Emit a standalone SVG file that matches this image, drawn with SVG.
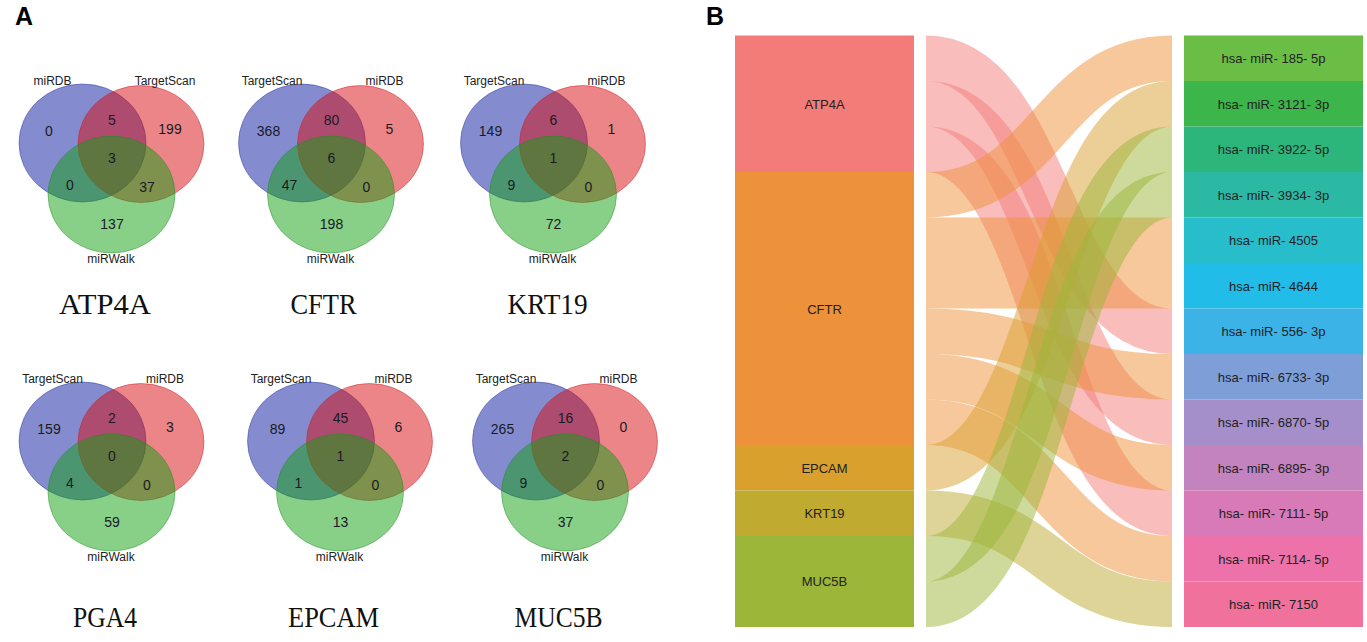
<svg xmlns="http://www.w3.org/2000/svg" width="1367" height="642" viewBox="0 0 1367 642">
<style>
.panel{font-family:"Liberation Sans",Arial,sans-serif;font-weight:bold;font-size:25px;fill:#000}
.vb{fill:rgb(10,25,160);fill-opacity:0.5;stroke:rgb(40,50,150);stroke-opacity:0.45;stroke-width:1}
.vr{fill:rgb(215,12,18);fill-opacity:0.5;stroke:rgb(200,30,40);stroke-opacity:0.45;stroke-width:1}
.vg{fill:rgb(18,160,18);fill-opacity:0.5;stroke:rgb(30,140,30);stroke-opacity:0.45;stroke-width:1}
.set{font-family:"Liberation Sans",Arial,sans-serif;font-size:12px;fill:#222;text-anchor:middle}
.num{font-family:"Liberation Sans",Arial,sans-serif;font-size:14px;fill:#1a1a24;text-anchor:middle}
.ttl{font-family:"Liberation Serif","Times New Roman",serif;font-size:29px;fill:#111;text-anchor:middle}
.nl{font-family:"Liberation Sans",Arial,sans-serif;font-size:13px;fill:#222;text-anchor:middle}
.lk{fill:none;stroke-width:45.5;stroke-opacity:0.5}
</style>
<defs>
<g id="circles">
<ellipse class="vb" cx="82.5" cy="143" rx="63.5" ry="59"/>
<ellipse class="vr" cx="141" cy="144" rx="63" ry="58.5"/>
<ellipse class="vg" cx="111.5" cy="194.5" rx="63.5" ry="58.5"/>
</g>
</defs>
<text class="panel" x="15" y="25">A</text>
<text class="panel" x="706" y="25">B</text>

<g id="venn-atp4a">
<use href="#circles"/>
<text class="set" x="52.5" y="85">miRDB</text>
<text class="set" x="165" y="85">TargetScan</text>
<text class="num" x="49" y="136">0</text>
<text class="num" x="112" y="125">5</text>
<text class="num" x="170" y="134">199</text>
<text class="num" x="112" y="163">3</text>
<text class="num" x="70" y="190">0</text>
<text class="num" x="147" y="192">37</text>
<text class="num" x="112" y="229">137</text>
<text class="set" x="111" y="263">miRWalk</text>
<text class="ttl" x="105" y="314" textLength="92" lengthAdjust="spacingAndGlyphs">ATP4A</text>
</g>

<g id="venn-cftr" transform="translate(219.5,0)">
<use href="#circles"/>
<text class="set" x="52.5" y="85">TargetScan</text>
<text class="set" x="165" y="85">miRDB</text>
<text class="num" x="49" y="136">368</text>
<text class="num" x="112" y="125">80</text>
<text class="num" x="170" y="134">5</text>
<text class="num" x="112" y="163">6</text>
<text class="num" x="70" y="190">47</text>
<text class="num" x="147" y="192">0</text>
<text class="num" x="112" y="229">198</text>
<text class="set" x="111" y="263">miRWalk</text>
<text class="ttl" x="104" y="314" textLength="66" lengthAdjust="spacingAndGlyphs">CFTR</text>
</g>

<g id="venn-krt19" transform="translate(441.5,0)">
<use href="#circles"/>
<text class="set" x="52.5" y="85">TargetScan</text>
<text class="set" x="165" y="85">miRDB</text>
<text class="num" x="49" y="136">149</text>
<text class="num" x="112" y="125">6</text>
<text class="num" x="170" y="134">1</text>
<text class="num" x="112" y="163">1</text>
<text class="num" x="70" y="190">9</text>
<text class="num" x="147" y="192">0</text>
<text class="num" x="112" y="229">72</text>
<text class="set" x="111" y="263">miRWalk</text>
<text class="ttl" x="106" y="314" textLength="80" lengthAdjust="spacingAndGlyphs">KRT19</text>
</g>

<g id="venn-pga4" transform="translate(0,298)">
<use href="#circles"/>
<text class="set" x="52.5" y="85">TargetScan</text>
<text class="set" x="165" y="85">miRDB</text>
<text class="num" x="49" y="136">159</text>
<text class="num" x="112" y="125">2</text>
<text class="num" x="170" y="134">3</text>
<text class="num" x="112" y="163">0</text>
<text class="num" x="70" y="190">4</text>
<text class="num" x="147" y="192">0</text>
<text class="num" x="112" y="229">59</text>
<text class="set" x="111" y="263">miRWalk</text>
<text class="ttl" x="105" y="329" textLength="64" lengthAdjust="spacingAndGlyphs">PGA4</text>
</g>

<g id="venn-epcam" transform="translate(228.5,298)">
<use href="#circles"/>
<text class="set" x="52.5" y="85">TargetScan</text>
<text class="set" x="165" y="85">miRDB</text>
<text class="num" x="49" y="136">89</text>
<text class="num" x="112" y="125">45</text>
<text class="num" x="170" y="134">6</text>
<text class="num" x="112" y="163">1</text>
<text class="num" x="70" y="190">1</text>
<text class="num" x="147" y="192">0</text>
<text class="num" x="112" y="229">13</text>
<text class="set" x="111" y="263">miRWalk</text>
<text class="ttl" x="105" y="329" textLength="91" lengthAdjust="spacingAndGlyphs">EPCAM</text>
</g>

<g id="venn-muc5b" transform="translate(453.5,298)">
<use href="#circles"/>
<text class="set" x="52.5" y="85">TargetScan</text>
<text class="set" x="165" y="85">miRDB</text>
<text class="num" x="49" y="136">265</text>
<text class="num" x="112" y="125">16</text>
<text class="num" x="170" y="134">0</text>
<text class="num" x="112" y="163">2</text>
<text class="num" x="70" y="190">9</text>
<text class="num" x="147" y="192">0</text>
<text class="num" x="112" y="229">37</text>
<text class="set" x="111" y="263">miRWalk</text>
<text class="ttl" x="105" y="329" textLength="88" lengthAdjust="spacingAndGlyphs">MUC5B</text>
</g>

<g id="links">
<path class="lk" stroke="#F37C79" d="M926,58.25 C1049,58.25 1049,331.25 1172,331.25"/>
<path class="lk" stroke="#F37C79" d="M926,103.75 C1049,103.75 1049,422.25 1172,422.25"/>
<path class="lk" stroke="#F37C79" d="M926,149.25 C1049,149.25 1049,513.25 1172,513.25"/>
<path class="lk" stroke="#ED913A" d="M926,194.75 C1049,194.75 1049,58.25 1172,58.25"/>
<path class="lk" stroke="#ED913A" d="M926,240.25 C1049,240.25 1049,240.25 1172,240.25"/>
<path class="lk" stroke="#ED913A" d="M926,285.75 C1049,285.75 1049,285.75 1172,285.75"/>
<path class="lk" stroke="#ED913A" d="M926,331.25 C1049,331.25 1049,376.75 1172,376.75"/>
<path class="lk" stroke="#ED913A" d="M926,376.75 C1049,376.75 1049,467.75 1172,467.75"/>
<path class="lk" stroke="#ED913A" d="M926,422.25 C1049,422.25 1049,558.75 1172,558.75"/>
<path class="lk" stroke="#D9A02E" d="M926,467.75 C1049,467.75 1049,103.75 1172,103.75"/>
<path class="lk" stroke="#C0AA30" d="M926,513.25 C1049,513.25 1049,604.25 1172,604.25"/>
<path class="lk" stroke="#9CB63A" d="M926,558.75 C1049,558.75 1049,149.25 1172,149.25"/>
<path class="lk" stroke="#9CB63A" d="M926,604.25 C1049,604.25 1049,194.75 1172,194.75"/>
</g>

<g id="node-ATP4A"><rect x="735" y="35.5" width="179" height="136.5" fill="#F37C79"/><text class="nl" x="824.5" y="108.5">ATP4A</text></g>
<g id="node-CFTR"><rect x="735" y="172" width="179" height="273" fill="#ED913A"/><text class="nl" x="824.5" y="313.5">CFTR</text></g>
<g id="node-EPCAM"><rect x="735" y="445" width="179" height="45.5" fill="#D9A02E"/><text class="nl" x="824.5" y="472.5">EPCAM</text></g>
<g id="node-KRT19"><rect x="735" y="490.5" width="179" height="45.5" fill="#C0AA30"/><text class="nl" x="824.5" y="518">KRT19</text></g>
<g id="node-MUC5B"><rect x="735" y="536" width="179" height="91" fill="#9CB63A"/><text class="nl" x="824.5" y="586">MUC5B</text></g>

<g id="node-185-5p"><rect x="1184" y="35.5" width="179" height="45.5" fill="#6BBE45"/><text class="nl" x="1273.5" y="63">hsa- miR- 185- 5p</text></g>
<g id="node-3121-3p"><rect x="1184" y="81" width="179" height="45.5" fill="#3CB54A"/><text class="nl" x="1273.5" y="108.5">hsa- miR- 3121- 3p</text></g>
<g id="node-3922-5p"><rect x="1184" y="126.5" width="179" height="45.5" fill="#2DB67B"/><text class="nl" x="1273.5" y="154">hsa- miR- 3922- 5p</text></g>
<g id="node-3934-3p"><rect x="1184" y="172" width="179" height="45.5" fill="#2BB9A3"/><text class="nl" x="1273.5" y="199.5">hsa- miR- 3934- 3p</text></g>
<g id="node-4505"><rect x="1184" y="217.5" width="179" height="45.5" fill="#27BDCB"/><text class="nl" x="1273.5" y="245">hsa- miR- 4505</text></g>
<g id="node-4644"><rect x="1184" y="263" width="179" height="45.5" fill="#21BCE8"/><text class="nl" x="1273.5" y="290.5">hsa- miR- 4644</text></g>
<g id="node-556-3p"><rect x="1184" y="308.5" width="179" height="45.5" fill="#3BB3E6"/><text class="nl" x="1273.5" y="336">hsa- miR- 556- 3p</text></g>
<g id="node-6733-3p"><rect x="1184" y="354" width="179" height="45.5" fill="#7E9ED8"/><text class="nl" x="1273.5" y="381.5">hsa- miR- 6733- 3p</text></g>
<g id="node-6870-5p"><rect x="1184" y="399.5" width="179" height="45.5" fill="#A48FCA"/><text class="nl" x="1273.5" y="427">hsa- miR- 6870- 5p</text></g>
<g id="node-6895-3p"><rect x="1184" y="445" width="179" height="45.5" fill="#C283BF"/><text class="nl" x="1273.5" y="472.5">hsa- miR- 6895- 3p</text></g>
<g id="node-7111-5p"><rect x="1184" y="490.5" width="179" height="45.5" fill="#D97AB8"/><text class="nl" x="1273.5" y="518">hsa- miR- 7111- 5p</text></g>
<g id="node-7114-5p"><rect x="1184" y="536" width="179" height="45.5" fill="#EC72A9"/><text class="nl" x="1273.5" y="563.5">hsa- miR- 7114- 5p</text></g>
<g id="node-7150"><rect x="1184" y="581.5" width="179" height="45.5" fill="#F0729C"/><text class="nl" x="1273.5" y="609">hsa- miR- 7150</text></g>
</svg>
